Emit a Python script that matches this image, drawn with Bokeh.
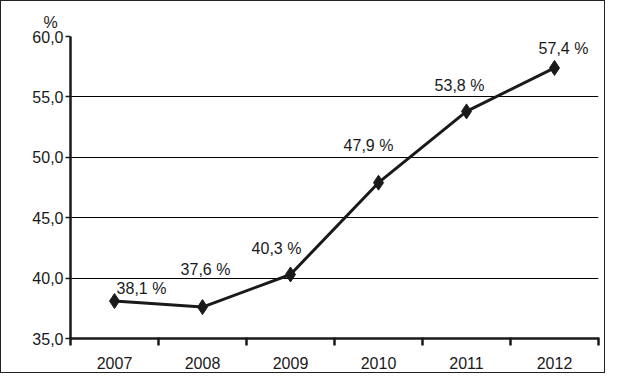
from bokeh.plotting import figure
from bokeh.models import FixedTicker, ColumnDataSource, Range1d, Title
from bokeh.embed import file_html
from bokeh.resources import INLINE
from bokeh.core.properties import value

years = ["2007", "2008", "2009", "2010", "2011", "2012"]
shares = [38.1, 37.6, 40.3, 47.9, 53.8, 57.4]
share_labels = ["38,1 %", "37,6 %", "40,3 %", "47,9 %", "53,8 %", "57,4 %"]
y_ticks = [35, 40, 45, 50, 55, 60]
y_tick_labels = ["35,0", "40,0", "45,0", "50,0", "55,0", "60,0"]
unit_label = "%"

# label nudges in screen pixels (layout only)
label_dx = [27, 3, -14, -10, -7, 9]
label_dy = [-13, -38, -26, -37, -26, -19]

FONT = "Liberation Sans"
INK = "#1a1a1a"

xs = [i + 0.5 for i in range(len(years))]
src = ColumnDataSource(dict(x=xs, y=shares, label=share_labels, dx=label_dx, dy=label_dy))

p = figure(width=605, height=373, output_backend="svg", toolbar_location=None,
           x_range=Range1d(0, len(years)), y_range=Range1d(35, 60),
           min_border_left=69, min_border_top=35, min_border_right=8, min_border_bottom=36)
p.styles = {"border": "1px solid #222"}
p.outline_line_color = None
p.background_fill_color = "white"
p.border_fill_color = "white"

p.title = Title(text=unit_label, align="left", offset=-27, standoff=12,
                text_font=FONT, text_font_size="16px", text_font_style="normal",
                text_color=INK)

# x axis
p.xaxis.ticker = FixedTicker(ticks=xs, minor_ticks=list(range(len(years) + 1)))
p.xaxis.major_label_overrides = {x: y for x, y in zip(xs, years)}
p.xaxis.major_tick_out = 0
p.xaxis.major_tick_in = 0
p.xaxis.minor_tick_out = 7
p.xaxis.minor_tick_in = 1
p.xaxis.minor_tick_line_width = 2.5
p.xaxis.minor_tick_line_color = INK
p.xaxis.axis_line_width = 2.5
p.xaxis.axis_line_color = INK
p.xaxis.major_label_standoff = 11
p.xaxis.major_label_text_font = FONT
p.xaxis.major_label_text_font_size = "16px"
p.xaxis.major_label_text_color = INK

# y axis
p.yaxis.ticker = FixedTicker(ticks=y_ticks, minor_ticks=[])
p.yaxis.major_label_overrides = {t: l for t, l in zip(y_ticks, y_tick_labels)}
p.yaxis.major_tick_out = 5
p.yaxis.major_tick_in = 0
p.yaxis.major_tick_line_width = 1.5
p.yaxis.major_tick_line_color = INK
p.yaxis.minor_tick_line_color = None
p.yaxis.axis_line_width = 2.5
p.yaxis.axis_line_color = INK
p.yaxis.major_label_standoff = 2
p.yaxis.major_label_text_font = FONT
p.yaxis.major_label_text_font_size = "16px"
p.yaxis.major_label_text_color = INK

p.xgrid.grid_line_color = None
p.ygrid.grid_line_color = "#000000"
p.ygrid.grid_line_width = 1.2

p.line("x", "y", source=src, line_color=INK, line_width=3)
p.scatter("x", "y", source=src, marker="diamond", size=15, fill_color=INK, line_color=INK)
p.text("x", "y", text="label", source=src, x_offset="dx", y_offset="dy",
       text_align="center", text_baseline="alphabetic",
       text_font=value(FONT), text_font_size="16px", text_color=INK)

open("out.html", "w").write(file_html(p, INLINE))
